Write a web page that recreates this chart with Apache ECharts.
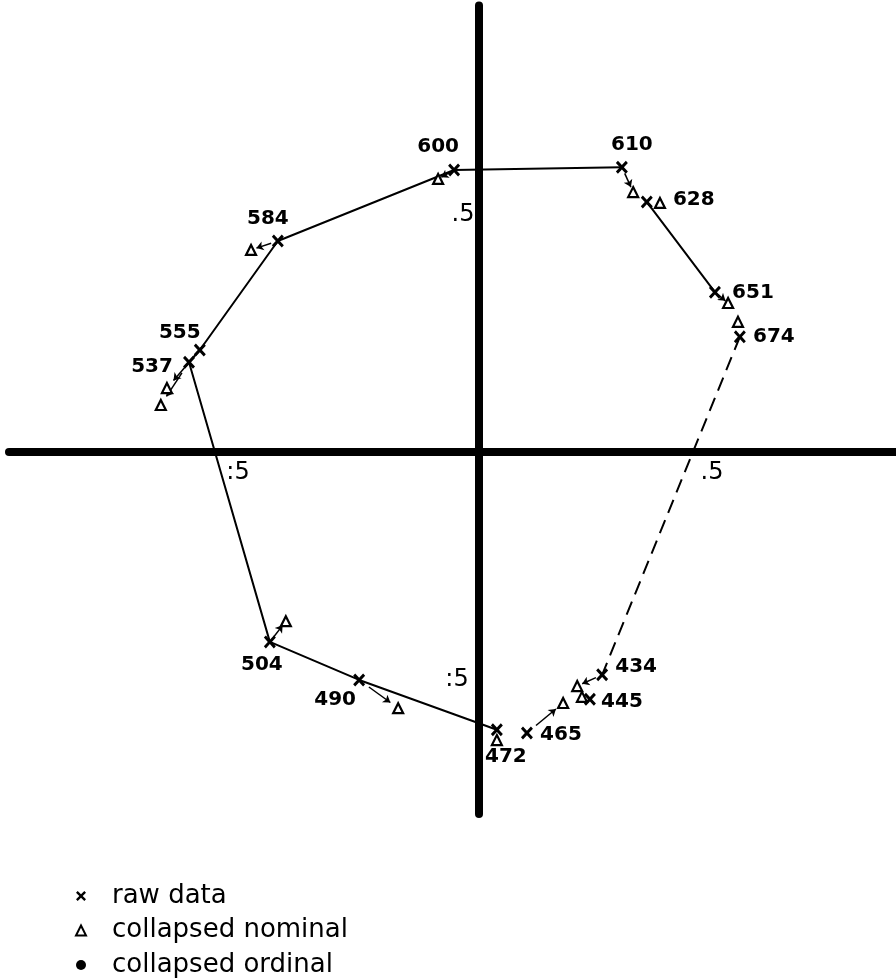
<!DOCTYPE html>
<html>
<head>
<meta charset="utf-8">
<script src="https://cdn.jsdelivr.net/npm/echarts@6/dist/echarts.min.js"></script>
<style>
  html, body { margin: 0; padding: 0; background: #fff; }
  #chart { width: 896px; height: 979px; }
</style>
</head>
<body>
<div id="chart"></div>
<script>
// wavelengths (nm)
var names = ['434', '445', '465', '472', '490', '504', '537', '555', '584', '600', '610', '628', '651', '674'];
// raw data configuration
var rawX = [0.262, 0.236, 0.102, 0.038, -0.255, -0.445, -0.617, -0.594, -0.428, -0.053, 0.304, 0.357, 0.502, 0.555];
var rawY = [-0.474, -0.526, -0.598, -0.591, -0.485, -0.404, 0.191, 0.217, 0.449, 0.600, 0.606, 0.532, 0.340, 0.245];
// collapsed nominal configuration
var nomX = [0.209, 0.219, 0.179, 0.038, -0.172, -0.411, -0.677, -0.664, -0.485, -0.087, 0.328, 0.385, 0.530, 0.551];
var nomY = [-0.498, -0.521, -0.534, -0.613, -0.545, -0.360, 0.100, 0.136, 0.430, 0.581, 0.553, 0.530, 0.317, 0.277];
// collapsed ordinal: no points shown in the figure
var ordX = [];
var ordY = [];
var tickValues = [-0.5, 0.5];
var tickText = [':5', '.5'];
// connecting paths through raw points ('-' = gap)
var solidPath = ['472', '490', '504', '537', '555', '584', '600', '610', '-', '628', '651'];
var dashedPath = ['674', '434'];
// raw -> nominal arrows that are drawn
var arrowNames = ['434', '465', '490', '504', '537', '555', '584', '600', '610', '651'];

// label placement (px offsets from the marker)
var labelOffset = {
    '434': [34, -8], '445': [32, 3], '465': [34, 2], '472': [9, 27],
    '490': [-24, 20], '504': [-8, 23], '537': [-37, 5], '555': [-20, -17],
    '584': [-10, -22], '600': [-16, -23], '610': [10, -22], '628': [47, -2],
    '651': [38, 1], '674': [34, 0]
};
var xTickOffset = [[-6, 21], [-2, 21]];
var yTickOffset = [[-22, -7], [-16, -2]];

function pt(name) {
    var i = names.indexOf(name);
    return [rawX[i], rawY[i]];
}
function pathData(list) {
    return list.map(function (n) { return n === '-' ? '-' : pt(n); });
}

var rawData = names.map(function (n, i) {
    return {
        name: n,
        value: [rawX[i], rawY[i]],
        label: {
            show: true, position: 'inside', offset: labelOffset[n], formatter: n,
            color: '#000', fontFamily: 'DejaVu Sans', fontWeight: 'bold', fontSize: 20,
            textBorderWidth: 0, opacity: 1
        }
    };
});
var nomData = names.map(function (n, i) { return [nomX[i], nomY[i]]; });
var ordData = ordX.map(function (x, i) { return [x, ordY[i]]; });

function tickLabel(text, off) {
    return {
        show: true, position: 'inside', formatter: text, offset: off,
        color: '#000', fontFamily: 'DejaVu Sans', fontSize: 24, fontWeight: 'normal',
        textBorderWidth: 0, opacity: 1
    };
}
var tickData = [];
tickValues.forEach(function (v, i) {
    tickData.push({ value: [v, 0], label: tickLabel(tickText[i], xTickOffset[i]) });
    tickData.push({ value: [0, v], label: tickLabel(tickText[i], yTickOffset[i]) });
});

var arrowData = arrowNames.map(function (n) {
    var i = names.indexOf(n);
    var dx = nomX[i] - rawX[i], dy = nomY[i] - rawY[i];
    return { coords: [[rawX[i] + dx * 0.25, rawY[i] + dy * 0.25], [rawX[i] + dx * 0.8, rawY[i] + dy * 0.8]] };
});

var crossPath = 'path://M0,1.7L1.7,0L5,3.3L8.3,0L10,1.7L6.7,5L10,8.3L8.3,10L5,6.7L1.7,10L0,8.3L3.3,5Z';

var myChart = echarts.init(document.getElementById('chart'));
var option = {
    animation: false,
    backgroundColor: '#fff',
    grid: { left: 9, top: 5.5, width: 893, height: 808.4, containLabel: false, outerBoundsMode: 'none' },
    xAxis: {
        type: 'value', min: -1.0, max: 0.9,
        axisLine: { onZero: true, lineStyle: { color: '#000', width: 8 } },
        axisTick: { show: false },
        splitLine: { show: false },
        axisLabel: { show: false }
    },
    yAxis: {
        type: 'value', min: -0.77, max: 0.95,
        axisLine: { onZero: true, lineStyle: { color: '#000', width: 8 } },
        axisTick: { show: false },
        splitLine: { show: false },
        axisLabel: { show: false }
    },
    legend: {
        orient: 'vertical', left: 75, top: 883, padding: 0,
        itemWidth: 10, itemHeight: 10, itemGap: 8.5,
        textStyle: { color: '#000', fontFamily: 'DejaVu Sans', fontSize: 26, padding: [0, 0, 0, 21] },
        data: ['raw data', 'collapsed nominal', 'collapsed ordinal']
    },
    series: [
        {
            type: 'line', data: pathData(solidPath), symbol: 'none', silent: true,
            lineStyle: { color: '#000', width: 2 }, z: 1
        },
        {
            type: 'line', data: pathData(dashedPath), symbol: 'none', silent: true,
            lineStyle: { color: '#000', width: 2, type: [14, 8] }, z: 1
        },
        {
            type: 'lines', coordinateSystem: 'cartesian2d', data: arrowData,
            symbol: ['none', 'arrow'], symbolSize: 7,
            lineStyle: { color: '#000', width: 1.5, opacity: 1 }, z: 2
        },
        {
            type: 'scatter', data: tickData, symbolSize: 1, silent: true,
            itemStyle: { color: 'transparent', opacity: 1 },
            z: 5
        },
        {
            name: 'raw data', type: 'scatter', data: rawData,
            symbol: crossPath, symbolSize: [12, 13],
            itemStyle: { color: '#000', opacity: 1 },
            z: 4
        },
        {
            name: 'collapsed nominal', type: 'scatter', data: nomData,
            symbol: 'triangle', symbolSize: 10,
            itemStyle: { color: '#fff', borderColor: '#000', borderWidth: 2.2, opacity: 1 },
            z: 3
        },
        {
            name: 'collapsed ordinal', type: 'scatter', data: ordData,
            symbol: 'circle', symbolSize: 7,
            itemStyle: { color: '#000', opacity: 1 }
        }
    ]
};
myChart.setOption(option);
</script>
</body>
</html>
